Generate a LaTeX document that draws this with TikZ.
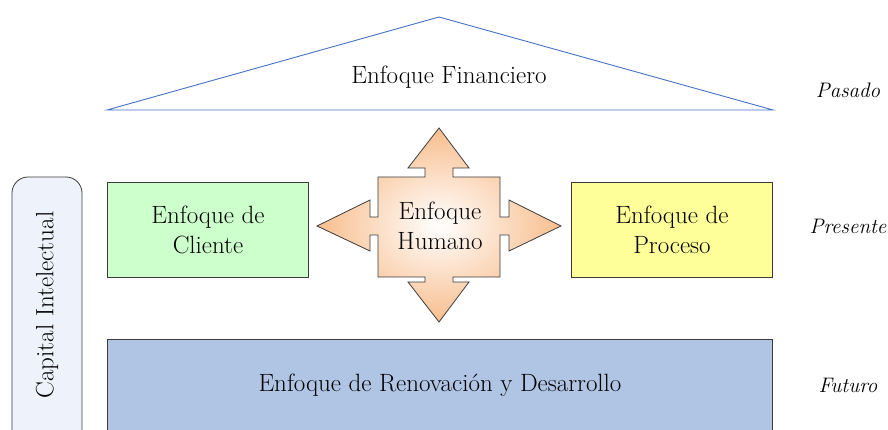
\documentclass[tikz,border=0pt]{standalone}
\usepackage{fontspec}
\setmainfont{Latin Modern Roman}
\usetikzlibrary{shapes.geometric}
\definecolor{linegray}{RGB}{60,60,60}
\definecolor{roofblue}{RGB}{68,114,196}
\definecolor{clientgreen}{RGB}{204,255,204}
\definecolor{procyellow}{RGB}{255,255,153}
\definecolor{renewblue}{RGB}{176,196,228}
\definecolor{capfill}{RGB}{238,242,250}
\definecolor{peach}{RGB}{248,190,142}
\tikzset{
  boxstyle/.style={draw=linegray, line width=0.8pt},
  lbl/.style={font=\fontsize{25}{30}\selectfont, align=center, text=black, inner sep=0pt},
  timelbl/.style={font=\fontsize{21}{25}\selectfont\itshape, text=black, inner sep=0pt},
}
\begin{document}
\begin{tikzpicture}[x=1pt,y=-1pt]
\useasboundingbox (0,0) rectangle (888,430);
\clip (0,0) rectangle (888,430);
% roof
\draw[roofblue, line width=0.9pt] (107,110) coordinate (rl) -- (439,17) coordinate (apex) -- (773,110) coordinate (rr) -- cycle;
\node[lbl] (fin) at (449,77) {Enfoque Financiero};
\node[timelbl] (pas) at (848,90) {Pasado};
% client / process
\draw[boxstyle, fill=clientgreen] (107,182) rectangle (308,277);
\node[lbl] (cli) at (208,230) {Enfoque de\\Cliente};
\draw[boxstyle, fill=procyellow] (571,182) rectangle (772,277);
\node[lbl] (pro) at (672,230) {Enfoque de\\Proceso};
\node[timelbl] (pre) at (848,226) {Presente};
% cross arrow
\draw[linegray, line width=0.8pt, inner color=white, outer color=peach]
 (439,128) -- (469,168) -- (453,168) -- (453,177) -- (500,177) -- (500,217) -- (509,217) -- (509,200) -- (561,226) -- (509,251) -- (509,235) -- (500,235) -- (500,277) -- (453,277) -- (453,282) -- (469,282) -- (439,322) -- (408,282) -- (425,282) -- (425,277) -- (378,277) -- (378,235) -- (370,235) -- (370,251) -- (317,226) -- (370,200) -- (370,217) -- (378,217) -- (378,177) -- (425,177) -- (425,168) -- (408,168) -- cycle;
\node[lbl] (hum) at (440,226) {Enfoque\\Humano};
% renewal
\draw[boxstyle, fill=renewblue] (107,339) rectangle (772,445);
\node[lbl] (ren) at (440,385) {Enfoque de Renovación y Desarrollo};
\node[timelbl] (fut) at (848,385) {Futuro};
% capital
\draw[boxstyle, fill=capfill, rounded corners=16pt] (12,177) rectangle (82,460);
\node[lbl, rotate=90] (cap) at (47,305) {Capital Intelectual};
\end{tikzpicture}
\end{document}
